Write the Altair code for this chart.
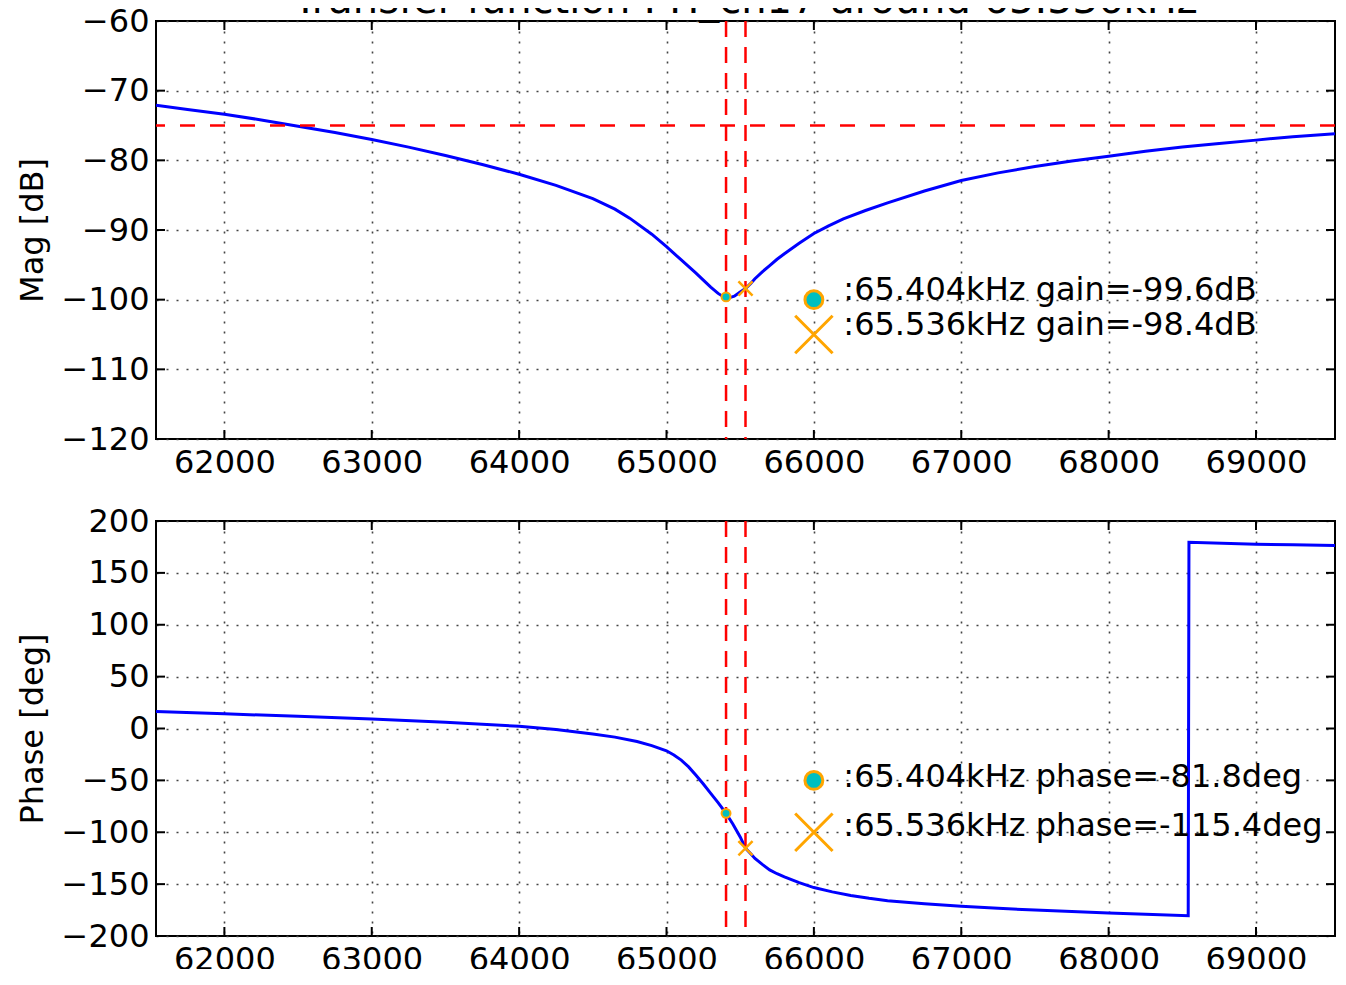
import altair as alt
import pandas as pd

# ---------------- data ----------------
title_text = "Transfer function : H_ch17 around 65.536kHz"

mag_freq = [61536, 61750, 62000, 62250, 62500, 62750, 63000, 63250, 63500, 63750,
            64000, 64250, 64500, 64650, 64750, 64900, 65000, 65100, 65200, 65250,
            65300, 65350, 65380, 65404, 65430, 65460, 65500, 65536, 65570, 65600,
            65650, 65700, 65750, 65800, 65900, 66000, 66100, 66200, 66350, 66500,
            66750, 67000, 67250, 67500, 67750, 68000, 68250, 68500, 68750, 69000,
            69250, 69536]
mag_db = [-72.1, -72.7, -73.4, -74.2, -75.1, -76.0, -77.0, -78.1, -79.3, -80.6,
          -82.0, -83.6, -85.5, -87.0, -88.3, -90.6, -92.4, -94.3, -96.2, -97.2,
          -98.2, -99.1, -99.5, -99.6, -99.7, -99.5, -98.9, -98.4, -97.7, -97.0,
          -96.0, -95.1, -94.2, -93.4, -91.9, -90.5, -89.4, -88.4, -87.2, -86.1,
          -84.4, -82.9, -81.8, -80.9, -80.1, -79.4, -78.7, -78.1, -77.6, -77.1,
          -76.6, -76.2]

phase_freq = [61536, 62000, 62500, 63000, 63500, 64000, 64250, 64500, 64650, 64800,
              64900, 65000, 65050, 65100, 65150, 65200, 65250, 65300, 65350, 65404,
              65450, 65500, 65536, 65570, 65600, 65650, 65700, 65750, 65800, 65900,
              66000, 66125, 66250, 66375, 66500, 66750, 67000, 67250, 67500, 67750,
              68000, 68250, 68540, 68545, 69000, 69250, 69536]
phase_deg = [16.4, 14.1, 11.7, 9.1, 6.0, 2.1, -1.0, -5.2, -8.3, -12.5,
             -16.5, -21.5, -25.5, -30.5, -37.0, -45.0, -53.5, -62.5, -71.5, -81.8,
             -92.0, -104.5, -115.4, -120.5, -125.2, -131.0, -136.3, -140.0, -143.0, -148.5,
             -153.3, -157.5, -161.0, -163.7, -166.0, -169.0, -171.4, -173.3, -175.0, -176.5,
             -177.8, -179.0, -180.5, 179.4, 177.7, 177.0, 176.4]

x_domain = [61536, 69536]
x_ticks = [62000, 63000, 64000, 65000, 66000, 67000, 68000, 69000]
mag_domain = [-120, -60]
mag_ticks = [-120, -110, -100, -90, -80, -70, -60]
phase_domain = [-200, 200]
phase_ticks = [-200, -150, -100, -50, 0, 50, 100, 150, 200]

marker_freqs = [65404, 65536]
marker_mag = [-99.6, -98.4]
marker_phase = [-81.8, -115.4]
mag_ref_level = [-75]

legend_x = 66000
text_x = 66200
mag_legend_y = [-100, -105]
phase_legend_y = [-50, -100]
mag_text_y = [-98.6, -103.7]
phase_text_y = [-46.3, -94.0]
mag_texts = [":65.404kHz gain=-99.6dB", ":65.536kHz gain=-98.4dB"]
phase_texts = [":65.404kHz phase=-81.8deg", ":65.536kHz phase=-115.4deg"]

# ---------------- styling ----------------
FONT = "DejaVu Sans"
FS = 32
TITLE_FS = 40
W = 1179
H_TOP = 418
H_BOT = 415
BLUE = "#0000ff"
RED = "#ff0000"
ORANGE = "#FFA500"
CYAN = "#00BFBF"
XSHAPE = "M-1,-1L1,1M-1,1L1,-1"
TICK = 9

xscale = alt.Scale(domain=x_domain, nice=False, zero=False)
xaxis = alt.Axis(values=x_ticks, format="d", title=None)


def panel(freqs, vals, ydomain, yticks, ytitle, h, mfreqs, mvals, leg_y, txt_y, texts,
          hline=None, title=None):
    yscale = alt.Scale(domain=ydomain, nice=False, zero=False)
    yaxis = alt.Axis(values=yticks, format="d", title=ytitle)

    def X():
        return alt.X("f:Q", scale=xscale, axis=xaxis)

    def Y():
        return alt.Y("v:Q", scale=yscale, axis=yaxis)

    curve = pd.DataFrame({"f": freqs, "v": vals})
    line = alt.Chart(curve).mark_line(color=BLUE, strokeWidth=3, clip=True).encode(
        x=X(), y=Y())

    vrules = alt.Chart(pd.DataFrame({"f": mfreqs})).mark_rule(
        color=RED, strokeWidth=2.5, strokeDash=[16, 10]).encode(x=X())

    layers = [line, vrules]
    if hline is not None:
        hr = alt.Chart(pd.DataFrame({"v": hline})).mark_rule(
            color=RED, strokeWidth=2.5, strokeDash=[15, 15]).encode(y=Y())
        layers.append(hr)

    pts = pd.DataFrame({"f": mfreqs, "v": mvals})
    small_circle = alt.Chart(pts.iloc[[0]]).mark_point(
        shape="circle", filled=True, fill=CYAN, stroke=ORANGE, strokeWidth=2,
        size=80, opacity=1).encode(x=X(), y=Y())
    small_x = alt.Chart(pts.iloc[[1]]).mark_point(
        shape=XSHAPE, filled=False, stroke=ORANGE, strokeWidth=2.5,
        size=200, opacity=1).encode(x=X(), y=Y())

    leg = pd.DataFrame({"f": [legend_x, legend_x], "v": leg_y})
    big_circle = alt.Chart(leg.iloc[[0]]).mark_point(
        shape="circle", filled=True, fill=CYAN, stroke=ORANGE, strokeWidth=3,
        size=320, opacity=1).encode(x=X(), y=Y())
    big_x = alt.Chart(leg.iloc[[1]]).mark_point(
        shape=XSHAPE, filled=False, stroke=ORANGE, strokeWidth=3,
        size=1400, opacity=1).encode(x=X(), y=Y())

    txt = alt.Chart(pd.DataFrame({"f": [text_x, text_x], "v": txt_y, "t": texts})).mark_text(
        align="left", baseline="middle", font=FONT, fontSize=FS, color="black").encode(
        x=X(), y=Y(), text="t:N")

    layers += [small_circle, small_x, big_circle, big_x, txt]

    # inward ticks on all four sides (matplotlib classic style)
    xt = pd.DataFrame({"f": x_ticks})
    yt = pd.DataFrame({"v": yticks})
    tick_style = dict(color="black", strokeWidth=2)
    layers += [
        alt.Chart(xt).mark_rule(**tick_style).encode(
            x=X(), y=alt.value(0), y2=alt.value(TICK)),
        alt.Chart(xt).mark_rule(**tick_style).encode(
            x=X(), y=alt.value(h), y2=alt.value(h - TICK)),
        alt.Chart(yt).mark_rule(**tick_style).encode(
            y=Y(), x=alt.value(0), x2=alt.value(TICK)),
        alt.Chart(yt).mark_rule(**tick_style).encode(
            y=Y(), x=alt.value(W), x2=alt.value(W - TICK)),
    ]

    if title is not None:
        ttl = alt.Chart(pd.DataFrame({"f": [sum(x_domain) / 2]})).mark_text(
            align="center", baseline="alphabetic", font=FONT, fontSize=TITLE_FS,
            color="black").encode(
            x=X(), y=alt.value(-8), text=alt.value(title))
        layers.append(ttl)

    return alt.layer(*layers).properties(width=W, height=h)


top = panel(mag_freq, mag_db, mag_domain, mag_ticks, "Mag [dB]", H_TOP,
            marker_freqs, marker_mag, mag_legend_y, mag_text_y, mag_texts,
            hline=mag_ref_level, title=title_text)
bottom = panel(phase_freq, phase_deg, phase_domain, phase_ticks, "Phase [deg]", H_BOT,
               marker_freqs, marker_phase, phase_legend_y, phase_text_y, phase_texts)

chart = alt.vconcat(top, bottom, spacing=82, bounds="flush").properties(
    padding={"left": 7, "top": -28, "right": 0, "bottom": -7}
).configure_view(
    stroke="black", strokeWidth=2
).configure_axis(
    labelFont=FONT, labelFontSize=FS, labelColor="black",
    titleFont=FONT, titleFontSize=FS, titleFontWeight="normal", titleColor="black",
    domain=False, ticks=False, grid=True, gridColor="#444444", gridWidth=1.6,
    gridDash=[2, 8], gridOpacity=1, labelOverlap=False, labelFlush=False,
).configure_axisX(
    labelPadding=8
).configure_axisY(
    labelPadding=7, titlePadding=12
)

chart.save("out.html", embed_options={"renderer": "svg", "actions": False})
